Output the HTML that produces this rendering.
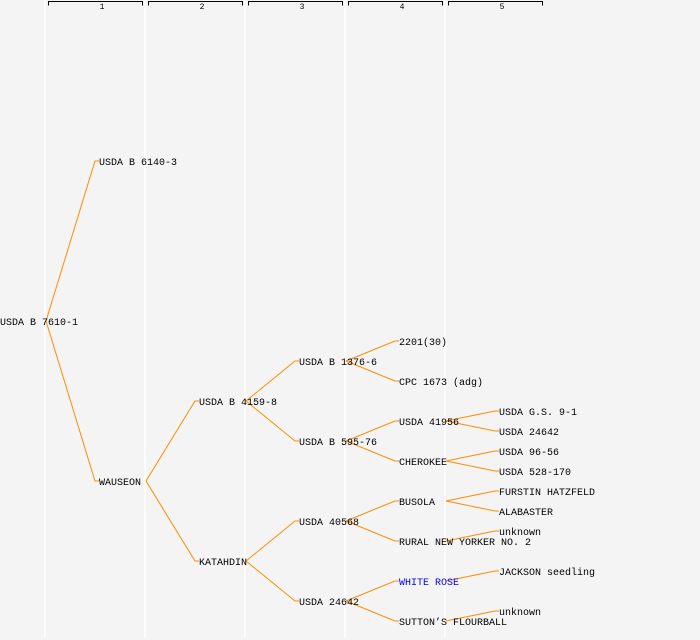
<!DOCTYPE html>
<html><head><meta charset="utf-8"><style>
html,body{margin:0;padding:0;background:#f4f4f4;}
svg{display:block;}
text{font-family:"Liberation Mono","DejaVu Sans Mono",monospace;font-size:10px;fill:#000;}
</style></head><body>
<svg width="700" height="640" viewBox="0 0 700 640">
<rect width="700" height="640" fill="#f4f4f4"/>
<g stroke="#ffffff" stroke-width="1.5">
<line x1="45" y1="0" x2="45" y2="638"/><line x1="145" y1="0" x2="145" y2="638"/>
<line x1="245" y1="0" x2="245" y2="638"/><line x1="345" y1="0" x2="345" y2="638"/>
<line x1="445" y1="0" x2="445" y2="638"/>
</g>
<g stroke="#000" stroke-width="1" fill="none">
<path d="M48.5,5.5V1.5H142.5V5.5"/><path d="M148.5,5.5V1.5H242.5V5.5"/>
<path d="M248.5,5.5V1.5H342.5V5.5"/><path d="M348.5,5.5V1.5H442.5V5.5"/>
<path d="M448.5,5.5V1.5H542.5V5.5"/>
</g>
<g>
<text x="102" y="9" text-anchor="middle" style="font-size:8px">1</text>
<text x="202" y="9" text-anchor="middle" style="font-size:8px">2</text>
<text x="302" y="9" text-anchor="middle" style="font-size:8px">3</text>
<text x="402" y="9" text-anchor="middle" style="font-size:8px">4</text>
<text x="502" y="9" text-anchor="middle" style="font-size:8px">5</text>
</g>
<g stroke="#ff8c00" stroke-width="1" fill="none">
<polyline points="46,321 95,161 99,161"/><polyline points="46,321 95,481 99,481"/>
<polyline points="146,481 195,401 199,401"/><polyline points="146,481 195,561 199,561"/>
<polyline points="246,401 295,361 299,361"/><polyline points="246,401 295,441 299,441"/>
<polyline points="246,561 295,521 299,521"/><polyline points="246,561 295,601 299,601"/>
<polyline points="346,361 395,341 399,341"/><polyline points="346,361 395,381 399,381"/>
<polyline points="346,441 395,421 399,421"/><polyline points="346,441 395,461 399,461"/>
<polyline points="346,521 395,501 399,501"/><polyline points="346,521 395,541 399,541"/>
<polyline points="346,601 395,581 399,581"/><polyline points="346,601 395,621 399,621"/>
<polyline points="446,421 495,411 499,411"/><polyline points="446,421 495,431 499,431"/>
<polyline points="446,461 495,451 499,451"/><polyline points="446,461 495,471 499,471"/>
<polyline points="446,501 495,491 499,491"/><polyline points="446,501 495,511 499,511"/>
<polyline points="446,541 495,531 499,531"/>
<polyline points="446,581 495,571 499,571"/>
<polyline points="446,621 495,611 499,611"/>
</g>
<g>
<text x="0" y="325">USDA B 7610-1</text>
<text x="99" y="165">USDA B 6140-3</text>
<text x="99" y="485">WAUSEON</text>
<text x="199" y="405">USDA B 4159-8</text>
<text x="199" y="565">KATAHDIN</text>
<text x="299" y="365">USDA B 1376-6</text>
<text x="299" y="445">USDA B 595-76</text>
<text x="299" y="525">USDA 40568</text>
<text x="299" y="605">USDA 24642</text>
<text x="399" y="345">2201(30)</text>
<text x="399" y="385">CPC 1673 (adg)</text>
<text x="399" y="425">USDA 41956</text>
<text x="399" y="465">CHEROKEE</text>
<text x="399" y="505">BUSOLA</text>
<text x="399" y="545">RURAL NEW YORKER NO. 2</text>
<text x="399" y="585" style="fill:#0000ff">WHITE ROSE</text>
<text x="399" y="625">SUTTON’S FLOURBALL</text>
<text x="499" y="415">USDA G.S. 9-1</text>
<text x="499" y="435">USDA 24642</text>
<text x="499" y="455">USDA 96-56</text>
<text x="499" y="475">USDA 528-170</text>
<text x="499" y="495">FURSTIN HATZFELD</text>
<text x="499" y="515">ALABASTER</text>
<text x="499" y="535">unknown</text>
<text x="499" y="575">JACKSON seedling</text>
<text x="499" y="615">unknown</text>
</g>
</svg>
</body></html>
